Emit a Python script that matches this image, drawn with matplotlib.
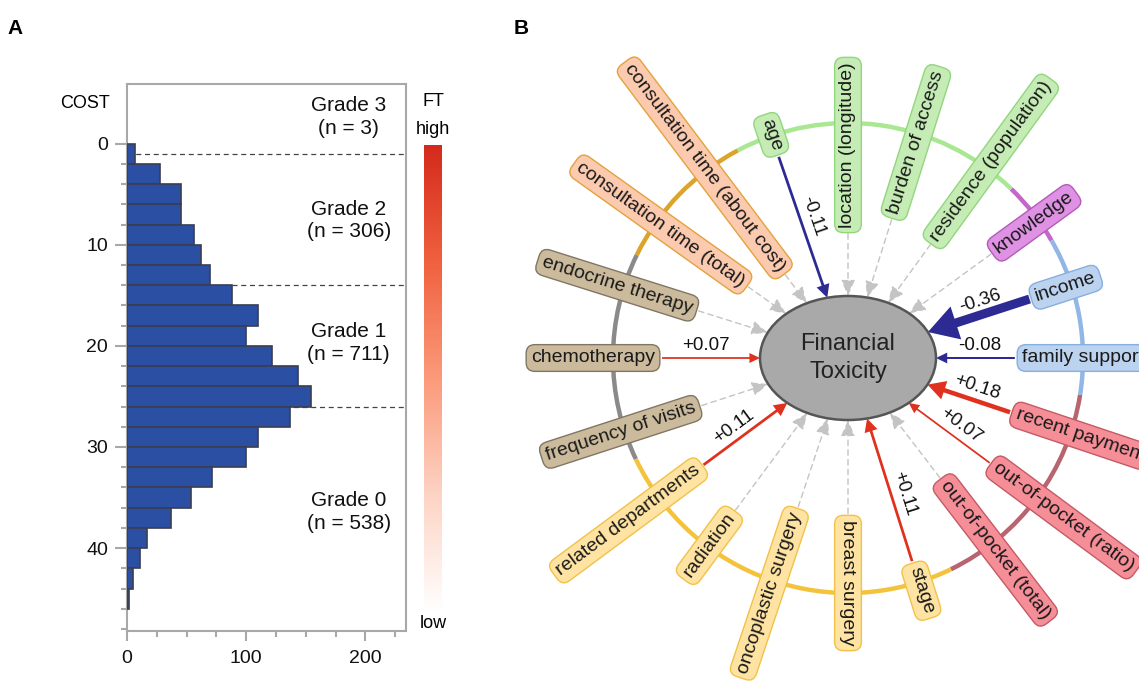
"""
Cost distribution (A) and financial-toxicity path diagram (B).
"""

import numpy as np
import matplotlib
matplotlib.use("Agg")
import matplotlib.pyplot as plt
from matplotlib.patches import Ellipse, Arc
from matplotlib.colors import LinearSegmentedColormap
from matplotlib.textpath import TextPath
from matplotlib.font_manager import FontProperties
from matplotlib.ticker import FixedLocator

plt.rcParams["font.family"] = ["Liberation Sans", "DejaVu Sans"]

W, H = 1139, 684
PX = 100 / 72            # pixels per point at dpi 100

# ── panel A data ──────────────────────────────────────────────────────────────
cost_bin_start = np.arange(0, 46, 2)
cost_counts = [7, 28, 45, 45, 56, 62, 70, 88, 110, 100, 122, 143, 154,
               137, 110, 100, 71, 54, 37, 17, 11, 5, 2]
grade_cuts = [1, 14, 26]
grade_text = ["Grade 3\n(n = 3)", "Grade 2\n(n = 306)",
              "Grade 1\n(n = 711)", "Grade 0\n(n = 538)"]
grade_y = [-2.6, 7.6, 19.7, 36.4]

# ── panel B data ──────────────────────────────────────────────────────────────
nodes = ["consultation time (about cost)", "consultation time (total)",
         "endocrine therapy", "chemotherapy", "frequency of visits",
         "related departments", "radiation", "oncoplastic surgery",
         "breast surgery", "stage", "out-of-pocket (total)",
         "out-of-pocket (ratio)", "recent payment", "family support",
         "income", "knowledge", "residence (population)",
         "burden of access", "location (longitude)", "age"]
node_group = ["consult", "consult", "treat", "treat", "treat",
              "hosp", "hosp", "hosp", "hosp", "hosp",
              "pay", "pay", "pay", "social", "social", "know",
              "demo", "demo", "demo", "demo"]
node_angle = [127, 144.5, 162.5, 180, 198, 216.5, 233.5, 251.5, 270, 287.5,
              307.5, 323.5, 341.5, 0, 18, 36, 54, 72.5, 90, 109]
node_radius = [238, 230, 242, 255, 239, 273, 233, 248, 225, 244,
               242, 268, 245, 235, 229, 230, 243, 226, 213, 236]

edge_from = ["age", "income", "family support", "recent payment",
             "out-of-pocket (ratio)", "stage", "related departments",
             "chemotherapy"]
edge_coef = [-0.11, -0.36, -0.08, 0.18, 0.07, 0.11, 0.11, 0.07]

ring_bounds = [30, 46, 118, 154, 205.5, 296, 351, 390]
ring_colors = ["#c466cc", "#a9e793", "#dba42a", "#8c8a88",
               "#f5c33b", "#b7656f", "#92b6e6"]

GROUP_STYLE = {
    "consult": ("#fccaae", "#e3a23c"),
    "treat":   ("#cbbb9c", "#807665"),
    "hosp":    ("#fee3a2", "#f1c24a"),
    "pay":     ("#f68e98", "#c45a66"),
    "social":  ("#bcd3ef", "#86aee0"),
    "know":    ("#df92e4", "#b45ab9"),
    "demo":    ("#c4ecb4", "#92d67e"),
}
NEG, POS = "#2e2a94", "#e0301e"


def px_box(x0, y0, x1, y1):
    return [x0 / W, 1 - y1 / H, (x1 - x0) / W, (y1 - y0) / H]


fig = plt.figure(figsize=(W / 100, H / 100), dpi=100)

# ── (A) histogram ─────────────────────────────────────────────────────────────
ax_a = fig.add_axes(px_box(127, 84, 406, 631))
ax_a.barh(cost_bin_start, cost_counts, height=2, align="edge",
          color="#2b4fa3", edgecolor="#3a3d52", linewidth=1.2, zorder=3)
for cut in grade_cuts:
    ax_a.axhline(cut, color="#444444", ls=(0, (4, 3)), lw=0.9, zorder=2)
for txt, y in zip(grade_text, grade_y):
    ax_a.text(186, y, txt, ha="center", va="center", fontsize=15,
              linespacing=1.25, color="#111111")

ax_a.set_xlim(0, 234)
ax_a.set_ylim(48.2, -5.9)
ax_a.yaxis.set_major_locator(FixedLocator([0, 10, 20, 30, 40]))
ax_a.yaxis.set_minor_locator(FixedLocator(np.arange(0, 49, 2)))
ax_a.xaxis.set_major_locator(FixedLocator([0, 100, 200]))
ax_a.xaxis.set_minor_locator(FixedLocator(np.arange(0, 226, 25)))
ax_a.tick_params(which="both", color="#a8a8a8", width=1.5, labelsize=14,
                 labelcolor="#111111")
ax_a.tick_params(which="major", length=8.5, pad=5)
ax_a.tick_params(which="minor", length=4)
ax_a.tick_params(axis="x", which="major", length=7, pad=7)
for sp in ax_a.spines.values():
    sp.set_color("#a8a8a8")
    sp.set_linewidth(1.5)

fig.text(85 / W, 1 - 103 / H, "COST", fontsize=13, ha="center", va="center")

# FT colour bar
ft_cmap = LinearSegmentedColormap.from_list(
    "ft", ["#ffffff", "#fdd3c4", "#fb9a7a", "#f0613f", "#d42a1c"])
ax_c = fig.add_axes(px_box(424, 145, 442, 612))
ax_c.imshow(np.linspace(0, 1, 256)[:, None], aspect="auto", cmap=ft_cmap,
            origin="lower")
ax_c.axis("off")
fig.text(433 / W, 1 - 102 / H, "FT", fontsize=13, ha="center", va="center")
fig.text(433 / W, 1 - 129 / H, "high", fontsize=13, ha="center", va="center")
fig.text(433 / W, 1 - 623 / H, "low", fontsize=13, ha="center", va="center")

fig.text(15 / W, 1 - 28 / H, "A", fontsize=15, fontweight="bold",
         ha="center", va="center")
fig.text(521 / W, 1 - 28 / H, "B", fontsize=15, fontweight="bold",
         ha="center", va="center")

# ── (B) path diagram (data units = pixels, y up) ──────────────────────────────
ax_b = fig.add_axes(px_box(470, 0, W, H))
ax_b.set_xlim(470, W)
ax_b.set_ylim(0, H)
ax_b.axis("off")

CX, CY = 848, H - 358
RING_R = 235
EA, EB = 88, 62            # ellipse semi-axes
FS = 14
fp = FontProperties(family="Liberation Sans", size=FS)
PAD = 0.25 * FS * PX

for a0, a1, col in zip(ring_bounds[:-1], ring_bounds[1:], ring_colors):
    ax_b.add_patch(Arc((CX, CY), 2 * RING_R, 2 * RING_R, theta1=a0, theta2=a1,
                       color=col, lw=3.2, zorder=1))

ax_b.add_patch(Ellipse((CX, CY), 2 * EA, 2 * EB, fc="#a9a9a9", ec="#555555",
                       lw=1.8, zorder=5))
ax_b.text(CX, CY, "Financial\nToxicity", fontsize=17, ha="center",
          va="center", linespacing=1.3, color="#222222", zorder=6)

coef_of = dict(zip(edge_from, edge_coef))

for name, grp, ang, rad in zip(nodes, node_group, node_angle, node_radius):
    t = np.deg2rad(ang)
    u = np.array([np.cos(t), np.sin(t)])
    rot = ang if np.cos(t) > -0.01 else ang - 180
    fc, ec = GROUP_STYLE[grp]
    ax_b.text(CX + rad * u[0], CY + rad * u[1], name, fontsize=FS,
              rotation=rot, rotation_mode="anchor", ha="center", va="center",
              color="#1a1a1a", zorder=7,
              bbox=dict(boxstyle="round,pad=0.25,rounding_size=0.45",
                        fc=fc, ec=ec, lw=1.0))

    half = TextPath((0, 0), name, prop=fp).get_extents().width * PX / 2
    r_start = rad - half - PAD - 3
    r_end = EA * EB / np.hypot(EB * u[0], EA * u[1])
    start = np.array([CX, CY]) + r_start * u
    end = np.array([CX, CY]) + r_end * u

    if name in coef_of:
        c = coef_of[name]
        col = NEG if c < 0 else POS
        lw = 25 * abs(c)
        ax_b.arrow(start[0], start[1], *(end - start), width=lw,
                   head_width=lw + 4 + 60 * abs(c), head_length=6 + 65 * abs(c),
                   length_includes_head=True, fc=col, ec=col, lw=0, zorder=4)
        d = (end - start) / np.linalg.norm(end - start)
        n = np.array([-d[1], d[0]])
        if n[1] < 0:
            n = -n
        pos = start + 0.45 * (end - start) + 13 * n
        trot = np.degrees(np.arctan2(d[1], d[0]))
        if trot > 90:
            trot -= 180
        elif trot <= -90:
            trot += 180
        ax_b.text(pos[0], pos[1], f"{c:+.2f}", fontsize=13.5, rotation=trot,
                  rotation_mode="anchor", ha="center", va="center",
                  color="#111111", zorder=6)
    else:
        ax_b.annotate("", xy=end, xytext=start, zorder=3,
                      arrowprops=dict(arrowstyle="-|>,head_length=0.7,head_width=0.3",
                                      color="#c4c4c4", lw=1.0, ls=(0, (4, 3)),
                                      shrinkA=0, shrinkB=0, mutation_scale=14))

fig.savefig("out.png", dpi=100)
